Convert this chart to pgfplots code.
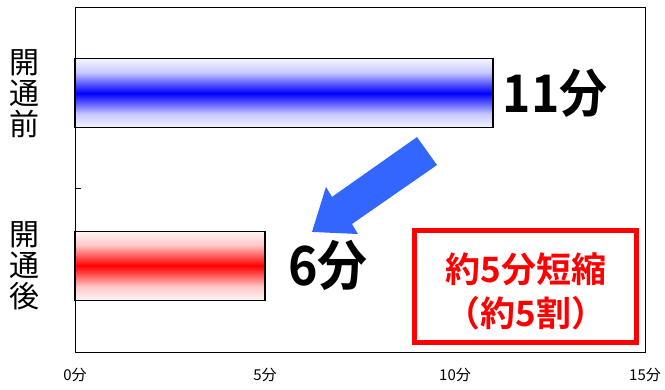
\documentclass[border=0pt]{standalone}
\usepackage{pgfplots}
\pgfplotsset{compat=1.18}
\usepackage{fontspec}
\setmainfont{Noto Sans CJK JP}[BoldFont={Noto Sans CJK JP Bold}]
\definecolor{arrowblue}{RGB}{51,102,255}
\pgfdeclareverticalshading{bluebar}{100bp}{color(0bp)=(blue!4); color(25bp)=(blue!4); color(35bp)=(blue!22); color(44bp)=(blue!70); color(50bp)=(blue); color(56bp)=(blue!70); color(65bp)=(blue!22); color(75bp)=(blue!4); color(100bp)=(blue!4)}
\pgfdeclareverticalshading{redbar}{100bp}{color(0bp)=(red!4); color(25bp)=(red!4); color(35bp)=(red!22); color(44bp)=(red!70); color(50bp)=(red); color(56bp)=(red!70); color(65bp)=(red!22); color(75bp)=(red!4); color(100bp)=(red!4)}
\begin{document}
\begin{tikzpicture}[x=1pt,y=1pt]
\path[use as bounding box] (0,0) rectangle (665,390);
\begin{axis}[
  at={(75pt,38pt)}, anchor=south west,
  width=570pt, height=345pt, scale only axis,
  xmin=0, xmax=15, ymin=-0.5, ymax=1.5,
  axis line style={black, line width=0.8pt},
  xtick={0,5,10,15},
  xticklabels={0分,5分,10分,15分},
  /pgf/number format/assume math mode=true,
  xticklabel style={font=\fontsize{15}{16}\selectfont, inner sep=0pt, yshift=-16pt},
  major tick length=0pt,
  ytick pos=left,
  tick align=inside,
  ytick={0,1},
  yticklabels={{開\\通\\後},{開\\通\\前}},
  yticklabel style={font=\fontsize{30}{31}\selectfont, align=center, inner sep=0pt, xshift=-35pt},
  extra y ticks={0.45},
  extra y tick labels={},
  extra y tick style={major tick length=6pt, tick align=inside, ytick pos=left, tick style={black, line width=0.6pt}},
  clip=false,
]
\addplot[xbar, bar shift=0, bar width=0.4, draw=black, line width=1.2pt, shade, shading=bluebar] coordinates {(11,1)};
\addplot[xbar, bar shift=0, bar width=0.4, draw=black, line width=1.2pt, shade, shading=redbar] coordinates {(5,0)};
\node[anchor=west, inner sep=0pt, font=\fontsize{48}{48}\selectfont\bfseries, yscale=1.08] at (axis cs:11.25,1) {11分};
\node[anchor=west, inner sep=0pt, font=\fontsize{50}{50}\selectfont\bfseries, yscale=1.08] at (axis cs:5.6,0) {6分};
\fill[arrowblue] (axis cs:9.0,0.746) -- (axis cs:6.763,0.399) -- (axis cs:6.605,0.457) -- (axis cs:6.237,0.196) -- (axis cs:7.447,0.184) -- (axis cs:7.289,0.242) -- (axis cs:9.526,0.584) -- cycle;
\draw[red, line width=5pt] (axis cs:8.947,0.2072) rectangle (axis cs:14.789,-0.4478);
\node[red, font=\fontsize{35}{35}\selectfont\bfseries, inner sep=0pt] at (axis cs:11.868,-0.0188) {約5分短縮};
\node[red, font=\fontsize{35}{35}\selectfont\bfseries, inner sep=0pt] at (axis cs:11.868,-0.274) {（約5割）};
\end{axis}
\end{tikzpicture}
\end{document}
